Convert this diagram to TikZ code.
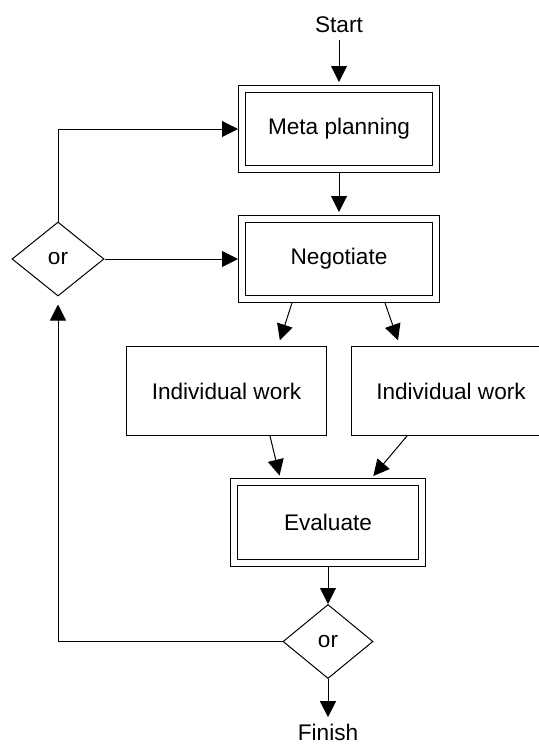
\documentclass[tikz,border=0pt]{standalone}
\usepackage{fontspec}
\setmainfont{Liberation Sans}
\usepackage{tikz}
\usetikzlibrary{arrows.meta,shapes.geometric}
\tikzstyle{arrow} = [line width=0.5pt,-{Triangle[length=8pt,width=8pt]}]
\tikzstyle{dblbox} = [rectangle, draw, line width=0.5pt, double, double distance=3pt, outer sep=2pt, minimum width=97pt, minimum height=40pt, text centered]
\tikzstyle{plainbox} = [rectangle, draw, line width=0.5pt, minimum width=100pt, minimum height=44.5pt, text centered]
\tikzstyle{choice} = [diamond, draw, line width=0.5pt, inner sep=0pt, minimum width=46pt, minimum height=37pt]

\begin{document}
\begin{tikzpicture}[font=\fontsize{11.3pt}{13.6pt}\selectfont]
\useasboundingbox (0,0) rectangle (269.5pt,-372.5pt);
\clip (0,0) rectangle (269.5pt,-372.5pt);

% Main column
\node (start) at (169.5pt,-12.5pt) {Start};
\node (meta) [dblbox, below of=start, node distance=52pt] {Meta planning};
\node (neg) [dblbox, below of=meta, node distance=65pt] {Negotiate};
\node (or1) [choice, left of=neg, node distance=140.5pt] {or};

% Two workers
\node (ind1) [plainbox, below of=neg, node distance=66pt, xshift=-56.25pt] {Individual work};
\node (ind2) [plainbox, right of=ind1, node distance=112.25pt] {Individual work};

% Evaluation and exit
\node (eval) [dblbox, below of=neg, node distance=131.5pt, xshift=-5.5pt, minimum width=94pt, minimum height=40.5pt] {Evaluate};
\node (or2) [choice, below of=eval, node distance=59.75pt, minimum width=45pt] {or};
\node (finish) [below of=or2, node distance=45.5pt] {Finish};

% Connections
\draw[arrow, shorten >=1.5pt] (start) -- (meta);
\draw[arrow, shorten >=1.5pt] (meta) -- (neg);
\draw[arrow] (or1.east) -- (neg.west);
\draw[arrow] (or1.north) |- (meta.west);
\draw[arrow, shorten >=3pt] ([xshift=-23.5pt]neg.south) -- ([xshift=25.75pt]ind1.north);
\draw[arrow, shorten >=3pt] ([xshift=23pt]neg.south) -- ([xshift=-25.5pt]ind2.north);
\draw[arrow, shorten >=1pt] ([xshift=21.75pt]ind1.south) -- ([xshift=-24pt]eval.north);
\draw[arrow, shorten >=1pt] ([xshift=-22pt]ind2.south) -- ([xshift=22pt]eval.north);
\draw[arrow] (eval) -- (or2);
\draw[arrow] (or2) -- (finish);
\draw[arrow, shorten >=4pt] (or2.west) -| (or1.south);
\end{tikzpicture}
\end{document}
